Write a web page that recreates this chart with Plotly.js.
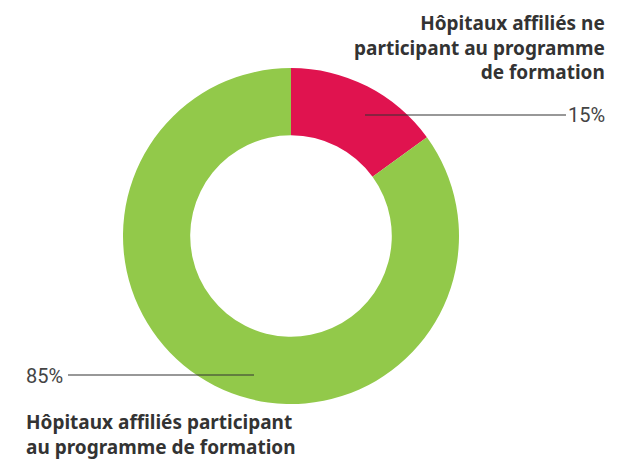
<!DOCTYPE html>
<html>
<head>
<meta charset="utf-8">
<script src="https://cdn.plot.ly/plotly-3.0.1.min.js"></script>
<style>html,body{margin:0;padding:0;background:#fff;}#chart{width:633px;height:465px;}</style>
</head>
<body>
<div id="chart"></div>
<script>
const categories = [
  "Hôpitaux affiliés ne<br>participant au programme<br>de formation",
  "Hôpitaux affiliés participant<br>au programme de formation"
];
const values = [15, 85];
const percentLabels = ["15%", "85%"];
const colors = ["#E0134F", "#92C94A"];

const W = 633, H = 465;
const titleFont = "'Noto Sans', Roboto, sans-serif";
const pctFont = "Roboto, 'Noto Sans', sans-serif";
const textColor = "#333333";

const trace = {
  type: "pie",
  labels: categories,
  values: values,
  marker: { colors: colors, line: { width: 0 } },
  hole: 0.60,
  sort: false,
  direction: "clockwise",
  rotation: 0,
  textinfo: "none",
  hoverinfo: "none",
  showlegend: false,
  domain: { x: [123 / W, 459 / W], y: [61 / H, 397 / H] }
};

const layout = {
  width: W, height: H,
  margin: { l: 0, r: 0, t: 0, b: 0 },
  paper_bgcolor: "#ffffff",
  plot_bgcolor: "#ffffff",
  showlegend: false,
  annotations: [
    { text: "<b>" + categories[0] + "</b>", xref: "paper", yref: "paper",
      x: 607 / W, y: 1 - 8 / H, xanchor: "right", yanchor: "top", align: "right",
      showarrow: false, font: { family: titleFont, size: 19, color: textColor } },
    { text: percentLabels[0], xref: "paper", yref: "paper",
      x: 607 / W, y: 1 - 115 / H, xanchor: "right", yanchor: "middle",
      showarrow: false, font: { family: pctFont, size: 20, color: "#444444" } },
    { text: percentLabels[1], xref: "paper", yref: "paper",
      x: 24 / W, y: 1 - 376 / H, xanchor: "left", yanchor: "middle",
      showarrow: false, font: { family: pctFont, size: 20, color: "#444444" } },
    { text: "<b>" + categories[1] + "</b>", xref: "paper", yref: "paper",
      x: 24 / W, y: 1 - 407 / H, xanchor: "left", yanchor: "top", align: "left",
      showarrow: false, font: { family: titleFont, size: 19, color: textColor } }
  ],
  shapes: [
    { type: "line", xref: "paper", yref: "paper",
      x0: 365 / W, x1: 566 / W, y0: 1 - 115 / H, y1: 1 - 115 / H,
      line: { color: "#333333", width: 1.2 } },
    { type: "line", xref: "paper", yref: "paper",
      x0: 68 / W, x1: 254 / W, y0: 1 - 375 / H, y1: 1 - 375 / H,
      line: { color: "#333333", width: 1.2 } }
  ]
};

Plotly.newPlot("chart", [trace], layout, { displayModeBar: false, staticPlot: true });
</script>
</body>
</html>
